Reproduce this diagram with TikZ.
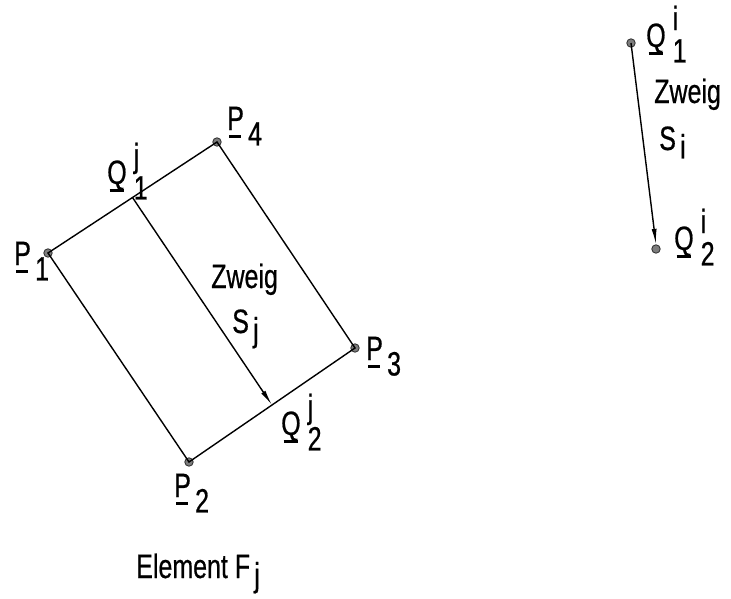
\documentclass[tikz,border=0pt]{standalone}
\usepackage{fontspec}
\setmainfont[FakeStretch=0.74, FakeBold=0.6]{Liberation Sans}
\usepackage{tikz}
\usetikzlibrary{arrows.meta, calc, positioning}

\definecolor{dotgray}{RGB}{125, 125, 125}
% underlined vector letter
\newcommand{\vletter}[1]{\setbox0\hbox{#1}\rlap{\kern0.12\wd0\rule[-5.5pt]{0.72\wd0}{1.6pt}}\box0}
\newcommand{\vsub}[2]{\vletter{#1}\kern3pt\raisebox{-11pt}{#2}}
\newcommand{\vsubsup}[3]{\vletter{#1}\kern5pt\rlap{\raisebox{12pt}{#3}}\raisebox{-11pt}{#2}}
\newcommand{\idx}[2]{#1\kern3pt\raisebox{-6pt}{#2}}

\tikzset{
  knot/.style={circle, draw=black!80, fill=dotgray, inner sep=0pt, minimum size=6pt, line width=0.6pt},
  lbl/.style={font=\fontsize{24}{25}\selectfont, inner sep=0pt, anchor=base west},
  edge/.style={line width=1pt},
  branch/.style={line width=1pt, -{Latex[length=11pt, width=3.6pt]}}
}

\begin{document}
\begin{tikzpicture}[x=0.025cm, y=-0.025cm]
  \useasboundingbox (0,0) rectangle (731,599);

  % Element
  \node[knot] (p1) at (48,253) {};
  \node[knot] (p4) at (217,142) {};
  \node[knot] (p3) at (355,348) {};
  \node[knot] (p2) at (189,462) {};
  \coordinate (q1) at ($(p1)!0.5!(p4)$);
  \coordinate (q2) at ($(p2)!0.5!(p3)$);

  \draw[edge] (p1.center) -- (p4.center) -- (p3.center) -- (p2.center) -- cycle;
  \draw[branch] (q1) -- (q2);

  \node[lbl] (lp1) at (14,265) {\vsub{P}{1}};
  \node[lbl] (lp4) at (227,130) {\vsub{P}{4}};
  \node[lbl] (lp3) at (366,360) {\vsub{P}{3}};
  \node[lbl] (lp2) at (174,497) {\vsub{P}{2}};
  \node[lbl] (lq1) at (107,184) {\vsubsup{Q}{1}{j}};
  \node[lbl] (lq2) at (281,435) {\vsubsup{Q}{2}{j}};
  \node[lbl] (zj) at (211,288) {Zweig};
  \node[lbl] (sj) at (232,333) {\idx{S}{j}};

  % Zweig i
  \node[knot] (r1) at (631,43) {};
  \node[knot] (r2) at (656,249) {};
  \draw[branch] (r1.center) -- (r2.north);

  \node[lbl] (lr1) at (646,47) {\vsubsup{Q}{1}{i}};
  \node[lbl] (zi) at (654,103) {Zweig};
  \node[lbl] (si) at (659,150) {\idx{S}{i}};
  \node[lbl] (lr2) at (674,250) {\vsubsup{Q}{2}{i}};

  \node[lbl] (elem) at (136,578) {Element \idx{F}{j}};
\end{tikzpicture}
\end{document}
